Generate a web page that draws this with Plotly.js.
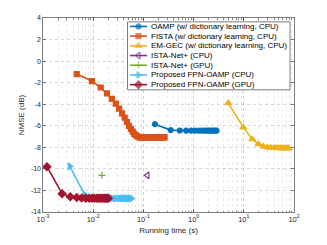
<!DOCTYPE html>
<html>
<head>
<meta charset="utf-8">
<script src="https://cdn.plot.ly/plotly-3.0.1.min.js"></script>
<style>html,body{margin:0;padding:0;background:#fff;}#chart{width:327px;height:245px;}</style>
</head>
<body>
<div id="chart"></div>
<script>
// ---------------- data ----------------
var seriesNames = [
  'OAMP (w/ dictionary learning, CPU)',
  'FISTA (w/ dictionary learning, CPU)',
  'EM-GEC (w/ dictionary learning, CPU)',
  'ISTA-Net+ (CPU)',
  'ISTA-Net+ (GPU)',
  'Proposed FPN-OAMP (CPU)',
  'Proposed FPN-OAMP (GPU)'
];

var oampTime = [0.17,0.35,0.53,0.71,0.89,1.07,1.25,1.43,1.61,1.79,1.97,2.15,2.33,2.51,2.69,2.87];
var oampNmse = [-5.85,-6.40,-6.44,-6.45,-6.45,-6.45,-6.45,-6.45,-6.45,-6.45,-6.45,-6.45,-6.45,-6.45,-6.45,-6.45];

var fistaTime = [0.0047,0.0094,0.0141,0.0188,0.0235,0.0282,0.0329,0.0376,0.0423,0.0470,
  0.0517,0.0564,0.0611,0.0658,0.0705,0.0752,0.0799,0.0846,0.0893,0.0940,
  0.0987,0.1034,0.1081,0.1128,0.1175,0.1222,0.1269,0.1316,0.1363,0.1410,
  0.1457,0.1504,0.1551,0.1598,0.1645,0.1692,0.1739,0.1786,0.1833,0.1880,
  0.1927,0.1974,0.2021,0.2068,0.2115,0.2162,0.2209,0.2256,0.2303,0.2350,
  0.2397,0.2444,0.2491,0.2538,0.2585,0.2632];
var fistaNmse = [-1.20,-1.85,-2.45,-3.00,-3.50,-3.95,-4.40,-4.85,-5.25,-5.65,
  -6.00,-6.30,-6.55,-6.75,-6.88,-6.97,-7.03,-7.07,-7.09,-7.10,
  -7.11,-7.11,-7.11,-7.11,-7.10,-7.10,-7.10,-7.10,-7.09,-7.09,
  -7.09,-7.08,-7.08,-7.08,-7.08,-7.07,-7.07,-7.07,-7.07,-7.07,
  -7.06,-7.06,-7.06,-7.06,-7.06,-7.06,-7.05,-7.05,-7.05,-7.05,
  -7.05,-7.05,-7.05,-7.05,-7.05,-7.05];

var emgecTime = [4.9,9.8,14.7,19.6,24.5,29.4,34.3,39.2,44.1,49.0,53.9,58.8,63.7,68.6,73.5,78.4];
var emgecNmse = [-3.90,-6.15,-7.25,-7.70,-7.92,-8.00,-8.03,-8.05,-8.06,-8.07,-8.07,-8.08,-8.08,-8.08,-8.08,-8.08];

var istaCpuTime = [0.12];
var istaCpuNmse = [-10.6];
var istaGpuTime = [0.0149];
var istaGpuNmse = [-10.6];

var fpnCpuTime = [0.0034,0.0068,0.0102,0.0136,0.0170,0.0204,0.0238,0.0272,0.0306,0.0340,0.0374,0.0408,0.0442,0.0476,0.0510,0.0544,0.0578];
var fpnCpuNmse = [-9.75,-12.40,-12.66,-12.70,-12.72,-12.73,-12.73,-12.74,-12.74,-12.74,-12.74,-12.74,-12.74,-12.74,-12.74,-12.74,-12.74];

var fpnGpuTime = [0.0012,0.0024,0.0035,0.0047,0.0059,0.0071,0.0083,0.0094,0.0106,0.0118,0.0130,0.0142,0.0153,0.0165,0.0177,0.0189,0.0201];
var fpnGpuNmse = [-9.80,-12.30,-12.58,-12.66,-12.70,-12.72,-12.72,-12.73,-12.73,-12.73,-12.73,-12.73,-12.73,-12.73,-12.73,-12.73,-12.73];

var xTickVals = [0.001,0.01,0.1,1,10,100];
var xTickText = ['10<sup>-3</sup>','10<sup>-2</sup>','10<sup>-1</sup>','10<sup>0</sup>','10<sup>1</sup>','10<sup>2</sup>'];
var yTickVals = [-14,-12,-10,-8,-6,-4,-2,0,2,4];
var yTickText = ['-14','-12','-10','-8','-6','-4','-2','0','2','4'];

// ---------------- styles ----------------
var colors = ['#0072BD','#D95319','#EDB120','#7E2F8E','#77AC30','#4DBEEE','#A2142F'];
var symbols = ['circle','square','triangle-up','triangle-left-open','cross-thin-open','triangle-right','diamond'];
var msize = [5,5,6,6,5,6,6];
var xs = [oampTime,fistaTime,emgecTime,istaCpuTime,istaGpuTime,fpnCpuTime,fpnGpuTime];
var ys = [oampNmse,fistaNmse,emgecNmse,istaCpuNmse,istaGpuNmse,fpnCpuNmse,fpnGpuNmse];

var FONT = 'Liberation Sans, Arial, Helvetica, sans-serif';
var AXC = '#262626';
var L = 43, R = 294, T = 18, B = 218;

var traces = [];
for (var i = 0; i < xs.length; i++) {
  traces.push({
    x: xs[i], y: ys[i], type: 'scatter', mode: 'lines+markers',
    xaxis: 'x', yaxis: 'y', showlegend: false, hoverinfo: 'skip',
    line: {color: colors[i], width: 1.6},
    marker: {symbol: symbols[i], size: msize[i], color: colors[i], line: {color: colors[i], width: 1.2}}
  });
}

// custom legend drawn on a pixel-space overlay axis
var lgLeft = 127.5, lgRight = 290, lgTop = 22, lgBottom = 92;
var rowTop = 26.7, rowH = 10;
traces.push({
  x: [lgLeft, lgRight, lgRight, lgLeft, lgLeft],
  y: [lgTop, lgTop, lgBottom, lgBottom, lgTop],
  type: 'scatter', mode: 'lines', fill: 'toself', fillcolor: '#ffffff',
  line: {color: AXC, width: 0.6}, xaxis: 'x2', yaxis: 'y2', showlegend: false, hoverinfo: 'skip'
});
var annotations = [];
for (var j = 0; j < seriesNames.length; j++) {
  var yy = rowTop + j * rowH;
  traces.push({
    x: [130, 138.5, 147], y: [yy, yy, yy], type: 'scatter', mode: 'lines+markers',
    xaxis: 'x2', yaxis: 'y2', showlegend: false, hoverinfo: 'skip',
    line: {color: colors[j], width: 1.6},
    marker: {symbol: symbols[j], size: [0, msize[j], 0], color: colors[j], line: {color: colors[j], width: 1.2}}
  });
  annotations.push({
    x: 149, y: yy, xref: 'x2', yref: 'y2', xanchor: 'left', yanchor: 'middle',
    text: seriesNames[j], showarrow: false, font: {family: FONT, size: 8, color: '#000'}
  });
}

var layout = {
  width: 327, height: 245,
  margin: {l: L, r: 327 - R, t: T, b: 245 - B, pad: 0},
  paper_bgcolor: '#ffffff', plot_bgcolor: '#ffffff',
  font: {family: FONT, size: 7.5, color: AXC},
  showlegend: false,
  xaxis: {
    type: 'log', range: [-3, 2], tickmode: 'array', tickvals: xTickVals, ticktext: xTickText,
    showline: true, linecolor: AXC, linewidth: 0.6, mirror: 'ticks',
    ticks: 'inside', ticklen: 3, tickwidth: 0.6, tickcolor: AXC,
    showgrid: true, gridcolor: '#bdbdbd', griddash: 'dot', gridwidth: 0.6,
    zeroline: false, tickfont: {size: 7.5, color: AXC}, automargin: true,
    minor: {dtick: 'D1', showgrid: true, gridcolor: '#dcdcdc', griddash: 'dot', gridwidth: 0.6, ticks: 'inside', ticklen: 1.5, tickcolor: AXC, tickwidth: 0.5},
    title: {text: 'Running time (s)', font: {size: 8, color: AXC}, standoff: 4},
    fixedrange: true
  },
  yaxis: {
    range: [-14, 4], tickmode: 'array', tickvals: yTickVals, ticktext: yTickText,
    showline: true, linecolor: AXC, linewidth: 0.6, mirror: 'ticks',
    ticks: 'inside', ticklen: 3, tickwidth: 0.6, tickcolor: AXC,
    showgrid: true, gridcolor: '#bdbdbd', griddash: 'dot', gridwidth: 0.6,
    zeroline: false, tickfont: {size: 7, color: AXC}, automargin: true,
    title: {text: 'NMSE (dB)', font: {size: 8, color: AXC}, standoff: 4},
    fixedrange: true
  },
  xaxis2: {overlaying: 'x', range: [L, R], visible: false, fixedrange: true},
  yaxis2: {overlaying: 'y', range: [B, T], visible: false, fixedrange: true},
  annotations: annotations
};

Plotly.newPlot('chart', traces, layout, {staticPlot: true, displayModeBar: false});
</script>
</body>
</html>
